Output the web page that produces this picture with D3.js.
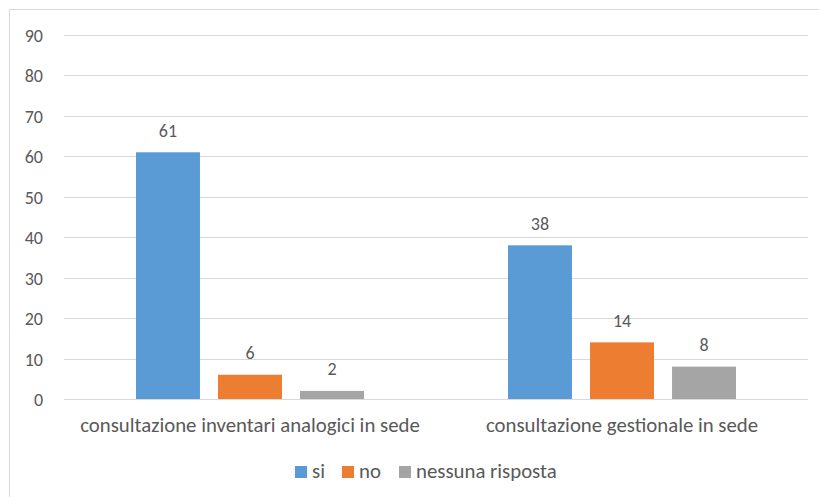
<!DOCTYPE html>
<html>
<head>
<meta charset="utf-8">
<script src="https://cdn.jsdelivr.net/npm/d3@7"></script>
<style>
  body { margin: 0; background: #fff; }
  text { font-family: Carlito, Calibri, Lato, sans-serif; fill: #595959; }
</style>
</head>
<body>
<script>
const width = 819;
const height = 497;

// data
const categories = ["consultazione inventari analogici in sede", "consultazione gestionale in sede"];
const seriesNames = ["si", "no", "nessuna risposta"];
const siValues = [61, 38];
const noValues = [6, 14];
const nessunaValues = [2, 8];
const yTicks = [0, 10, 20, 30, 40, 50, 60, 70, 80, 90];

const colors = ["#5B9BD5", "#ED7D31", "#A5A5A5"];
const seriesValues = [siValues, noValues, nessunaValues];

const numSize = 18;
const labelSize = 20.8;

const svg = d3.select("body")
    .append("svg")
    .attr("width", width)
    .attr("height", height);

// outer frame
svg.append("rect")
    .attr("x", 9.5)
    .attr("y", 9.5)
    .attr("width", width)
    .attr("height", height)
    .attr("fill", "none")
    .attr("stroke", "#D9D9D9")
    .attr("stroke-width", 1);

const yScale = d3.scaleLinear()
    .domain([0, 90])
    .range([399, 35]);

const x0 = d3.scaleBand()
    .domain(categories)
    .range([64, 808])
    .padding(0);

const groupWidth = 228;
const x1 = d3.scaleBand()
    .domain(seriesNames)
    .range([0, groupWidth])
    .paddingInner(0.22)
    .paddingOuter(0);

// gridlines
svg.append("g")
    .selectAll("line")
    .data(yTicks)
    .enter()
    .append("line")
    .attr("x1", 64)
    .attr("x2", 808)
    .attr("y1", d => Math.round(yScale(d)) + 0.5)
    .attr("y2", d => Math.round(yScale(d)) + 0.5)
    .attr("stroke", "#D9D9D9")
    .attr("stroke-width", 1);

// y labels
svg.append("g")
    .selectAll("text")
    .data(yTicks)
    .enter()
    .append("text")
    .attr("x", 43)
    .attr("y", d => yScale(d) + 7)
    .attr("text-anchor", "end")
    .attr("font-size", numSize)
    .text(d => d);

// bars
const rows = [];
categories.forEach((c, i) => {
    seriesNames.forEach((s, j) => {
        rows.push({ cat: c, series: s, value: seriesValues[j][i], color: colors[j] });
    });
});

const groups = svg.append("g");

groups.selectAll("rect")
    .data(rows)
    .enter()
    .append("rect")
    .attr("x", d => x0(d.cat) + (x0.bandwidth() - groupWidth) / 2 + x1(d.series))
    .attr("y", d => yScale(d.value))
    .attr("width", x1.bandwidth())
    .attr("height", d => yScale(0) - yScale(d.value))
    .attr("fill", d => d.color);

groups.selectAll("text")
    .data(rows)
    .enter()
    .append("text")
    .attr("x", d => x0(d.cat) + (x0.bandwidth() - groupWidth) / 2 + x1(d.series) + x1.bandwidth() / 2)
    .attr("y", d => yScale(d.value) - 15.5)
    .attr("text-anchor", "middle")
    .attr("font-size", numSize)
    .text(d => d.value);

// baseline
svg.append("line")
    .attr("x1", 64)
    .attr("x2", 808)
    .attr("y1", Math.round(yScale(0)) + 0.5)
    .attr("y2", Math.round(yScale(0)) + 0.5)
    .attr("stroke", "#D9D9D9");

// category labels
svg.append("g")
    .selectAll("text")
    .data(categories)
    .enter()
    .append("text")
    .attr("x", d => x0(d) + x0.bandwidth() / 2)
    .attr("y", 432)
    .attr("text-anchor", "middle")
    .attr("font-size", labelSize)
    .text(d => d);

// legend
const legendItems = [
    { name: "si", x: 295 },
    { name: "no", x: 342 },
    { name: "nessuna risposta", x: 399 }
];

const legend = svg.append("g");
legendItems.forEach((item, i) => {
    legend.append("rect")
        .attr("x", item.x)
        .attr("y", 466)
        .attr("width", 12)
        .attr("height", 12)
        .attr("fill", colors[i]);
    legend.append("text")
        .attr("x", item.x + 17)
        .attr("y", 478)
        .attr("font-size", labelSize)
        .text(item.name);
});
</script>
</body>
</html>
